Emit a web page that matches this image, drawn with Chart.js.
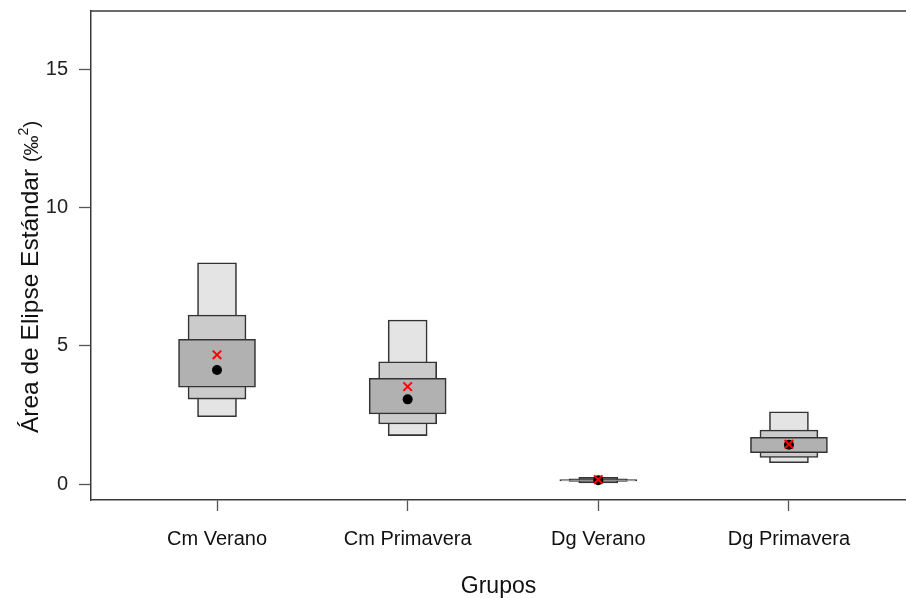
<!DOCTYPE html>
<html>
<head>
<meta charset="utf-8">
<script src="https://cdn.jsdelivr.net/npm/chart.js@4"></script>
<style>
  body { margin: 0; background: #fff; }
</style>
</head>
<body>
<canvas id="siberChart" width="906" height="598"></canvas>
<script>
// grupos y valores
const groups = ['Cm Verano', 'Cm Primavera', 'Dg Verano', 'Dg Primavera'];
const groupX = [1, 2, 3, 4];

// intervalos de credibilidad (low, high)
const ci95 = [[2.43, 8.0], [1.75, 5.93], [0.04, 0.24], [0.77, 2.61]];
const ci75 = [[3.07, 6.11], [2.17, 4.42], [0.09, 0.19], [0.96, 1.95]];
const ci50 = [[3.50, 5.23], [2.53, 3.82], [0.11, 0.16], [1.13, 1.69]];

// moda (punto negro) y valor ML (x roja)
const modeValues = [4.12, 3.06, 0.14, 1.42];
const mlValues = [4.67, 3.52, 0.16, 1.44];

const yTicks = [0, 5, 10, 15];

const FONT = 'Liberation Sans, Arial, Helvetica, sans-serif';
const frameColor = '#3a3a3a';

function boxData(arr) {
    return arr.map((v, i) => ({ x: groupX[i], y: v }));
}
function pointData(arr) {
    return arr.map((v, i) => ({ x: groupX[i], y: v }));
}

// marco superior + titulo del eje y con el (‰²) mas pequeno
const framePlugin = {
    id: 'framePlugin',
    afterDraw(chart) {
        const ctx = chart.ctx;
        const a = chart.chartArea;
        ctx.save();
        ctx.strokeStyle = frameColor;
        ctx.lineWidth = 1.5;
        ctx.beginPath();
        ctx.moveTo(a.left, a.top);
        ctx.lineTo(chart.width, a.top);
        ctx.stroke();

        // titulo rotado
        ctx.fillStyle = '#111';
        ctx.textBaseline = 'alphabetic';
        ctx.textAlign = 'left';
        const main = 'Área de Elipse Estándar ';
        ctx.font = '24.5px ' + FONT;
        const wMain = ctx.measureText(main).width;
        ctx.font = '20px ' + FONT;
        const wOpen = ctx.measureText('(‰').width;
        const wClose = ctx.measureText(')').width;
        ctx.font = '14px ' + FONT;
        const wSup = ctx.measureText('2').width;
        const total = wMain + wOpen + wSup + wClose;

        ctx.translate(38, 277 + total / 2);
        ctx.rotate(-Math.PI / 2);
        let x = 0;
        ctx.font = '24.5px ' + FONT;
        ctx.fillText(main, x, 0);
        x += wMain;
        ctx.font = '20px ' + FONT;
        ctx.fillText('(‰', x, 0);
        x += wOpen;
        ctx.font = '14px ' + FONT;
        ctx.fillText('2', x, -10);
        x += wSup;
        ctx.font = '20px ' + FONT;
        ctx.fillText(')', x, 0);
        ctx.restore();
    }
};

const boxBase = {
    type: 'bar',
    grouped: false,
    borderColor: '#333333',
    borderWidth: 1.6,
    borderSkipped: false
};

new Chart(document.getElementById('siberChart'), {
    type: 'bar',
    data: {
        datasets: [
            {
                type: 'scatter',
                label: 'ML',
                data: pointData(mlValues),
                pointStyle: 'crossRot',
                pointRadius: 6,
                borderColor: '#ff0000',
                borderWidth: 2,
                order: 0
            },
            {
                type: 'scatter',
                label: 'Moda',
                data: pointData(modeValues),
                pointStyle: 'circle',
                pointRadius: 5,
                backgroundColor: '#000',
                borderColor: '#000',
                borderWidth: 0,
                order: 1
            },
            Object.assign({}, boxBase, { label: '50%', data: boxData(ci50), backgroundColor: '#b1b1b1', barThickness: 77, order: 2 }),
            Object.assign({}, boxBase, { label: '75%', data: boxData(ci75), backgroundColor: '#cbcbcb', barThickness: 58, order: 3 }),
            Object.assign({}, boxBase, { label: '95%', data: boxData(ci95), backgroundColor: '#e4e4e4', barThickness: 39, order: 4 })
        ]
    },
    options: {
        responsive: false,
        animation: false,
        layout: { autoPadding: false, padding: { top: 11, right: 0, bottom: 0, left: 0 } },
        plugins: {
            legend: { display: false },
            tooltip: { enabled: false }
        },
        scales: {
            x: {
                type: 'linear',
                min: 0.339,
                max: 4.614,
                offset: false,
                afterBuildTicks: function (scale) {
                    scale.ticks = groupX.map(v => ({ value: v }));
                },
                afterFit: function (scale) { scale.height = 98; },
                grid: {
                    offset: false,
                    drawOnChartArea: false,
                    drawTicks: true,
                    tickLength: 11,
                    tickColor: '#555',
                    tickWidth: 1.3
                },
                border: { display: true, color: frameColor, width: 1.5 },
                ticks: {
                    autoSkip: false,
                    maxRotation: 0,
                    padding: 16,
                    color: '#111',
                    font: { family: FONT, size: 20 },
                    callback: function (value) {
                        const i = groupX.indexOf(value);
                        return i >= 0 ? groups[i] : '';
                    }
                },
                title: {
                    display: true,
                    text: 'Grupos',
                    color: '#111',
                    font: { family: FONT, size: 23 },
                    padding: { top: 0, bottom: -2 }
                }
            },
            y: {
                type: 'linear',
                min: -0.578,
                max: 17.1,
                afterBuildTicks: function (scale) {
                    scale.ticks = yTicks.map(v => ({ value: v }));
                },
                afterFit: function (scale) {
                    scale.width = 91;
                    scale.paddingTop = 0;
                    scale.paddingBottom = 0;
                },
                grid: {
                    drawOnChartArea: false,
                    drawTicks: true,
                    tickLength: 12,
                    tickColor: '#555',
                    tickWidth: 1.3
                },
                border: { display: true, color: frameColor, width: 1.5 },
                ticks: {
                    padding: 11,
                    color: '#222',
                    font: { family: FONT, size: 20 }
                },
                title: { display: false }
            }
        }
    },
    plugins: [framePlugin]
});
</script>
</body>
</html>
